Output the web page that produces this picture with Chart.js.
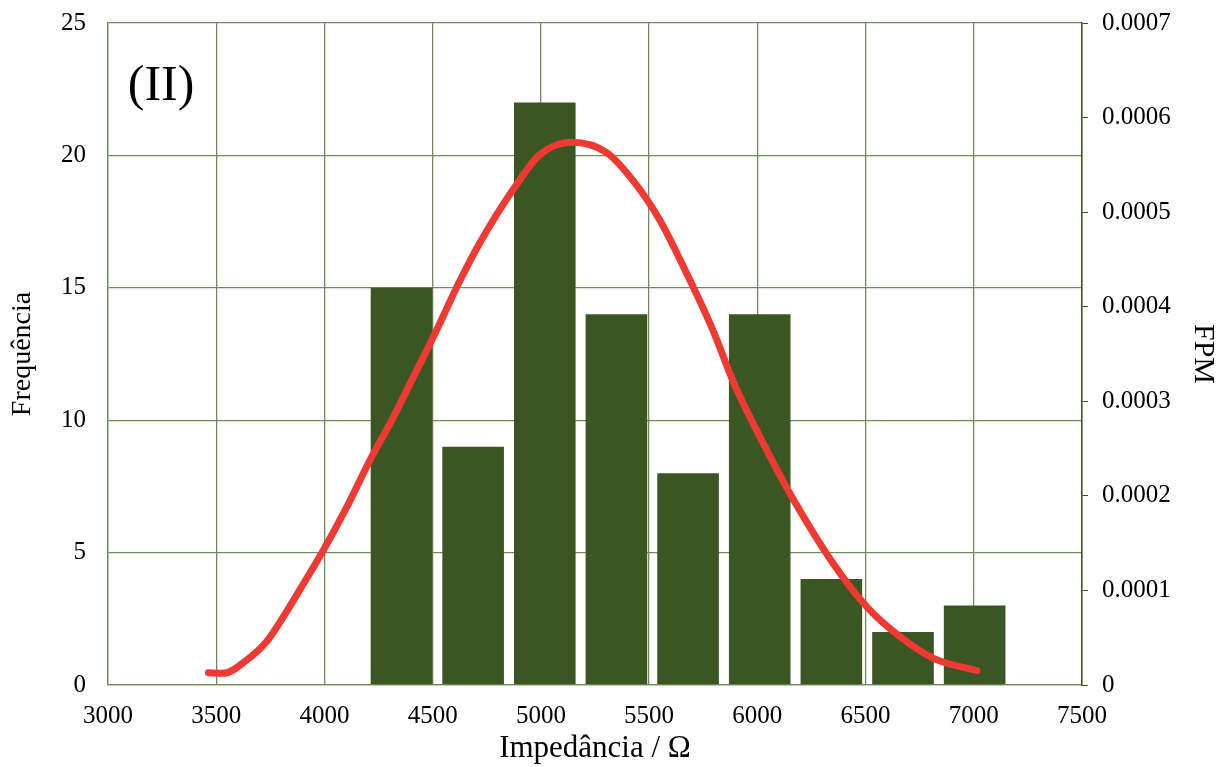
<!DOCTYPE html>
<html lang="pt">
<head>
    <meta charset="UTF-8">
    <title>Impedância (II)</title>
    <script src="https://cdn.jsdelivr.net/npm/chart.js@4"></script>
    <style>
        html, body { margin: 0; padding: 0; background: #fff; overflow: hidden; }
        /* taller box pulled up so the plot area starts near the top edge */
        #wrap { width: 1230px; height: 781px; margin-top: -14px; }
    </style>
</head>
<body>
    <div id="wrap"><canvas id="histChart"></canvas></div>

    <script>
        // Histogram bins (bin centre, Ω) and counts
        const binCenters = [4356, 4687, 5018, 5349, 5680, 6011, 6342, 6673, 7004];
        const counts = [15, 9, 22, 14, 8, 14, 4, 2, 3];

        // Fitted probability density curve (FPM)
        const fitX = [3464, 3533, 3641, 3733, 3810, 3903, 3995, 4103, 4211, 4318, 4396,
                      4503, 4627, 4719, 4878, 4996, 5143, 5304, 5427, 5551, 5674, 5797,
                      5890, 6013, 6152, 6352, 6506, 6660, 6814, 7014];
        const fitY = [0.000013, 0.0000123, 0.0000264, 0.000046, 0.0000721, 0.000107, 0.0001425,
                      0.000188, 0.000238, 0.000283, 0.000319, 0.000368, 0.000428, 0.000468,
                      0.000526, 0.000561, 0.000574, 0.000563, 0.000533, 0.000491, 0.000435,
                      0.000374, 0.000320, 0.000262, 0.000202, 0.000128, 0.0000827, 0.000051,
                      0.0000282, 0.0000151];

        // Axis ranges
        const xMin = 3000, xMax = 7500, xStep = 500;
        const freqMax = 25, freqStep = 5;
        const fpmMax = 0.0007, fpmStep = 0.0001;

        const gridColor = '#6f8c5c';
        const barColor = '#3b5523';
        const curveColor = '#ee3a32';
        const serif = "'Liberation Serif', 'DejaVu Serif', serif";

        // Panel label drawn in data coordinates
        const panelLabel = {
            id: 'panelLabel',
            afterDraw(chart) {
                const { ctx, scales } = chart;
                ctx.save();
                ctx.font = `50px ${serif}`;
                ctx.fillStyle = '#000';
                ctx.textAlign = 'center';
                ctx.textBaseline = 'middle';
                ctx.fillText('(II)', scales.x.getPixelForValue(3245), scales.y.getPixelForValue(22.6));
                ctx.restore();
            }
        };

        const ctx = document.getElementById('histChart').getContext('2d');
        new Chart(ctx, {
            data: {
                datasets: [
                    {
                        type: 'line',
                        label: 'FPM',
                        data: fitX.map((x, i) => ({ x: x, y: fitY[i] })),
                        yAxisID: 'y2',
                        borderColor: curveColor,
                        borderWidth: 7,
                        borderCapStyle: 'round',
                        borderJoinStyle: 'round',
                        pointRadius: 0,
                        cubicInterpolationMode: 'monotone',
                        order: 0
                    },
                    {
                        type: 'bar',
                        label: 'Frequência',
                        data: binCenters.map((x, i) => ({ x: x, y: counts[i] })),
                        yAxisID: 'y',
                        backgroundColor: barColor,
                        categoryPercentage: 1.0,
                        barPercentage: 0.86,
                        order: 1
                    }
                ]
            },
            options: {
                responsive: true,
                maintainAspectRatio: false,
                animation: false,
                layout: { padding: { top: 0, left: 0, right: 0, bottom: 0 } },
                plugins: {
                    legend: { display: false },
                    tooltip: { enabled: false }
                },
                scales: {
                    x: {
                        type: 'linear',
                        min: xMin,
                        max: xMax,
                        offset: false,
                        afterFit: (scale) => { scale.height = 82; },
                        grid: { color: gridColor, lineWidth: 1.3, drawTicks: false, offset: false },
                        border: { color: gridColor, width: 1.3 },
                        ticks: {
                            stepSize: xStep,
                            padding: 16,
                            maxRotation: 0,
                            color: '#000',
                            font: { family: serif, size: 25 },
                            callback: (v) => v
                        },
                        title: {
                            display: true,
                            text: 'Impedância / Ω',
                            color: '#000',
                            font: { family: serif, size: 31 },
                            padding: { top: 0, bottom: 0 }
                        }
                    },
                    y: {
                        position: 'left',
                        min: 0,
                        max: freqMax,
                        afterFit: (scale) => { scale.width = 108; },
                        grid: { color: gridColor, lineWidth: 1.3, drawTicks: false },
                        border: { color: gridColor, width: 1.3 },
                        ticks: {
                            stepSize: freqStep,
                            padding: 22,
                            color: '#000',
                            font: { family: serif, size: 25 }
                        },
                        title: {
                            display: true,
                            text: 'Frequência',
                            color: '#000',
                            font: { family: serif, size: 28 },
                            padding: { top: 6, bottom: 0 }
                        }
                    },
                    y2: {
                        position: 'right',
                        min: 0,
                        max: fpmMax,
                        afterFit: (scale) => { scale.width = 148; },
                        grid: { drawOnChartArea: false, color: barColor, tickLength: 6 },
                        border: { color: barColor, width: 1.5 },
                        ticks: {
                            stepSize: fpmStep,
                            padding: 14,
                            color: '#000',
                            font: { family: serif, size: 25 },
                            callback: (v) => v === 0 ? '0' : v.toFixed(4)
                        },
                        title: {
                            display: true,
                            text: 'FPM',
                            color: '#000',
                            font: { family: serif, size: 30 },
                            padding: { top: 9, bottom: 0 }
                        }
                    }
                }
            },
            plugins: [panelLabel]
        });
    </script>
</body>
</html>
